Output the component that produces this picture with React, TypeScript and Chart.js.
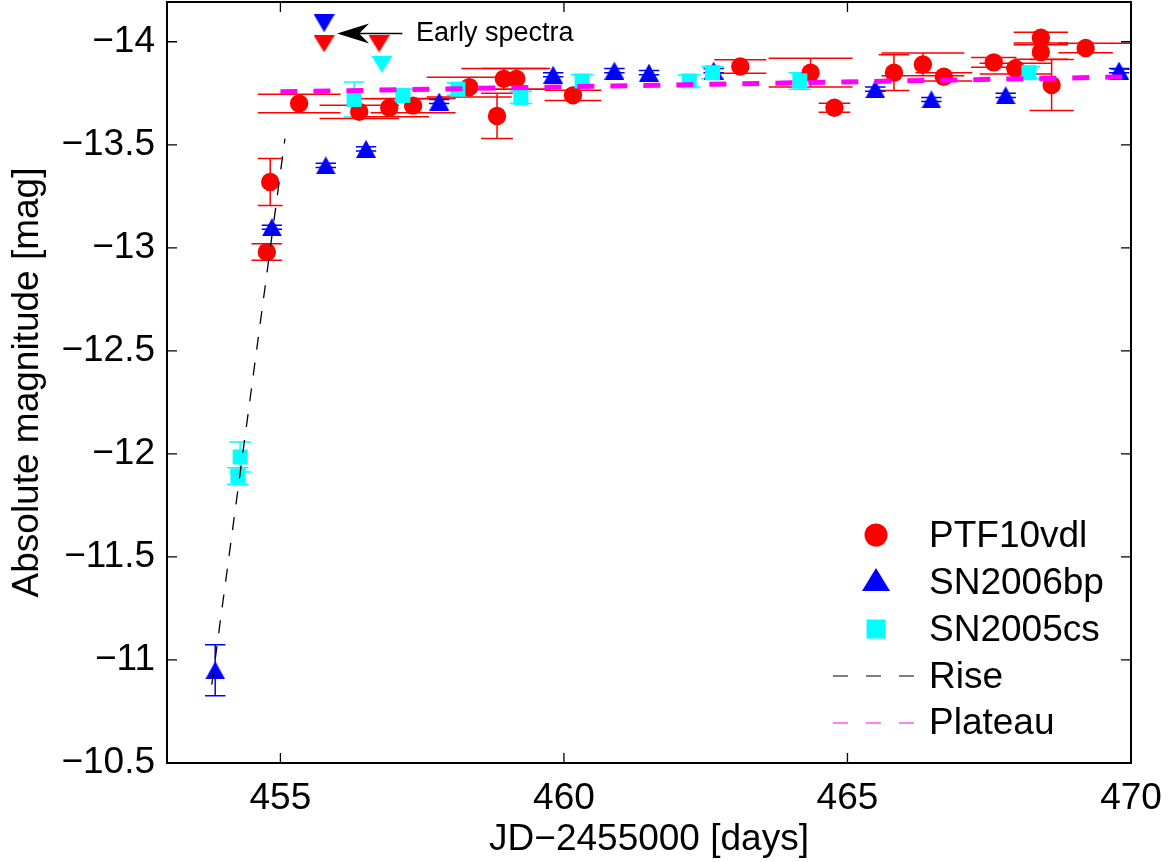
import React, { useEffect, useRef } from 'react';
import { Chart, registerables } from 'chart.js';
Chart.register(...registerables);

// ---- axis ticks ----
const xTicks = [455, 460, 465, 470];
const yTicks = [-14, -13.5, -13, -12.5, -12, -11.5, -11, -10.5];

// ---- PTF10vdl (red circles) ----
const ptfX = [454.76, 454.82, 455.33, 456.39, 456.92, 457.34, 458.33, 458.82, 458.94, 459.16, 460.16, 463.11, 464.35, 464.77, 465.82, 466.33, 466.7, 467.58, 467.96, 468.41, 468.41, 468.6, 469.2, 470.3];
const ptfY = [-12.98, -13.32, -13.7, -13.66, -13.68, -13.69, -13.78, -13.64, -13.82, -13.82, -13.74, -13.88, -13.85, -13.68, -13.85, -13.89, -13.83, -13.9, -13.87, -14.02, -13.95, -13.79, -13.97, -13.93];
const ptfErr = [0.04, 0.114, 0.045, 0.032, 0.044, 0.035, 0.048, 0.11, 0.05, 0.05, 0.025, 0.033, 0.07, 0.022, 0.087, 0.055, 0.02, 0.024, 0.026, 0.026, 0.035, 0.124, 0.023, 0.063];
const ptfCapHalf = [0.27, 0.22, 0.73, 0.7, 0.7, 0.75, 0.75, 0.28, 0.75, 0.6, 0.5, 0.46, 0.74, 0.28, 0.27, 0.73, 0.5, 0.4, 0.63, 0.48, 0.48, 0.39, 0.48, 0.65];

// ---- SN2006bp (blue triangles) ----
const bpX = [453.85, 454.85, 455.8, 456.51, 457.8, 459.81, 460.89, 461.5, 462.64, 465.49, 466.48, 467.79, 469.79];
const bpY = [-10.95, -13.1, -13.4, -13.48, -13.71, -13.84, -13.86, -13.85, -13.86, -13.77, -13.72, -13.74, -13.86];
const bpErr = [0.124, 0.01, 0.01, 0.01, 0.01, 0.01, 0.01, 0.01, 0.01, 0.01, 0.01, 0.01, 0.01];
const bpCapHalf = [0.18, 0.18, 0.18, 0.18, 0.18, 0.18, 0.18, 0.18, 0.18, 0.18, 0.18, 0.18, 0.18];

// ---- SN2005cs (cyan squares) ----
const csX = [454.25, 454.29, 456.3, 457.16, 458.13, 459.24, 460.32, 462.21, 462.62, 464.16, 468.2];
const csY = [-11.893, -11.985, -13.72, -13.74, -13.77, -13.73, -13.81, -13.81, -13.85, -13.81, -13.85];
const csErr = [0.04, 0.073, 0.085, 0.03, 0.03, 0.03, 0.03, 0.03, 0.03, 0.04, 0.03];
const csCapHalf = [0.19, 0.19, 0.18, 0.2, 0.2, 0.2, 0.2, 0.2, 0.2, 0.2, 0.2];

// ---- early spectra epochs (downward triangles) ----
const ptfLimX = [455.77, 456.74];
const ptfLimY = [-13.99, -13.99];
const bpLimX = [455.77];
const bpLimY = [-14.09];
const csLimX = [456.79];
const csLimY = [-13.89];

// ---- fitted lines ----
const riseX = [453.79, 455.08];
const riseY = [-10.88, -13.53];
const plateauX = [455.0, 470.5];
const plateauY = [-13.757, -13.832];

// ---- annotation ----
const arrowTip = { x: 456.0, y: -14.04 };
const arrowTail = { x: 457.15, y: -14.04 };
const noteText = 'Early spectra';
const noteAt = { x: 457.39, y: -14.04 };

const legendLabels = ['PTF10vdl', 'SN2006bp', 'SN2005cs', 'Rise', 'Plateau'];

const RED = '#ff0000';
const BLUE = '#0000ff';
const CYAN = '#00ffff';
const MAGENTA = '#ff00ff';
const FONT = "'Liberation Sans', Arial, Helvetica, sans-serif";

const pts = (xs: number[], ys: number[]) => xs.map((x, i) => ({ x, y: ys[i] }));

function triImage(color: string, w: number, h: number, down: boolean) {
  const c = document.createElement('canvas');
  c.width = w;
  c.height = h;
  const g = c.getContext('2d')!;
  g.fillStyle = color;
  g.beginPath();
  if (down) {
    g.moveTo(0, 0);
    g.lineTo(w, 0);
    g.lineTo(w / 2, h);
  } else {
    g.moveTo(w / 2, 0);
    g.lineTo(w, h);
    g.lineTo(0, h);
  }
  g.closePath();
  g.fill();
  return c;
}

export default function App() {
  const ref = useRef<HTMLCanvasElement>(null);

  useEffect(() => {
    const canvas = ref.current!;
    const upBlue = triImage(BLUE, 20, 18, false);
    const downBlue = triImage(BLUE, 21, 18, true);
    const downRed = triImage(RED, 21, 17, true);
    const downCyan = triImage(CYAN, 21, 17, true);

    const errSets = [
      { xs: ptfX, ys: ptfY, err: ptfErr, cap: ptfCapHalf, color: RED },
      { xs: bpX, ys: bpY, err: bpErr, cap: bpCapHalf, color: BLUE },
      { xs: csX, ys: csY, err: csErr, cap: csCapHalf, color: CYAN },
    ];

    const errorBars = {
      id: 'errorBars',
      beforeDatasetsDraw(chart: any) {
        const { ctx, chartArea: a, scales } = chart;
        const sx = scales.x;
        const sy = scales.y;
        ctx.save();
        ctx.beginPath();
        ctx.rect(a.left, a.top, a.right - a.left, a.bottom - a.top);
        ctx.clip();
        ctx.lineWidth = 1.5;
        for (const s of errSets) {
          ctx.strokeStyle = s.color;
          for (let i = 0; i < s.xs.length; i++) {
            const px = sx.getPixelForValue(s.xs[i]);
            const y1 = sy.getPixelForValue(s.ys[i] - s.err[i]);
            const y2 = sy.getPixelForValue(s.ys[i] + s.err[i]);
            const l = sx.getPixelForValue(s.xs[i] - s.cap[i]);
            const r = sx.getPixelForValue(s.xs[i] + s.cap[i]);
            ctx.beginPath();
            ctx.moveTo(px, y1);
            ctx.lineTo(px, y2);
            ctx.moveTo(l, y1);
            ctx.lineTo(r, y1);
            ctx.moveTo(l, y2);
            ctx.lineTo(r, y2);
            ctx.stroke();
          }
        }
        ctx.restore();
      },
    };

    const frameAndExtras = {
      id: 'frameAndExtras',
      afterDraw(chart: any) {
        const { ctx, chartArea: a, scales } = chart;
        const sx = scales.x;
        const sy = scales.y;
        ctx.save();
        // box
        ctx.strokeStyle = '#000';
        ctx.lineWidth = 2;
        ctx.strokeRect(a.left, a.top, a.right - a.left, a.bottom - a.top);
        // inward ticks
        ctx.lineWidth = 1.3;
        const tl = 10;
        ctx.beginPath();
        for (const v of xTicks) {
          const px = sx.getPixelForValue(v);
          ctx.moveTo(px, a.bottom);
          ctx.lineTo(px, a.bottom - tl);
          ctx.moveTo(px, a.top);
          ctx.lineTo(px, a.top + tl);
        }
        for (const v of yTicks) {
          const py = sy.getPixelForValue(v);
          ctx.moveTo(a.left, py);
          ctx.lineTo(a.left + tl, py);
          ctx.moveTo(a.right, py);
          ctx.lineTo(a.right - tl, py);
        }
        ctx.stroke();

        // annotation arrow
        const tx = sx.getPixelForValue(arrowTip.x);
        const ty = sy.getPixelForValue(arrowTip.y);
        const ex = sx.getPixelForValue(arrowTail.x);
        ctx.strokeStyle = '#000';
        ctx.fillStyle = '#000';
        ctx.lineWidth = 1.5;
        ctx.beginPath();
        ctx.moveTo(tx + 20, ty);
        ctx.lineTo(ex, ty);
        ctx.stroke();
        ctx.beginPath();
        ctx.moveTo(tx, ty);
        ctx.lineTo(tx + 32, ty - 10);
        ctx.lineTo(tx + 22, ty);
        ctx.lineTo(tx + 32, ty + 10);
        ctx.closePath();
        ctx.fill();
        ctx.font = `27px ${FONT}`;
        ctx.textAlign = 'left';
        ctx.textBaseline = 'middle';
        ctx.fillText(noteText, sx.getPixelForValue(noteAt.x), sy.getPixelForValue(noteAt.y));

        // legend
        const lx = a.right - 255; // marker centre
        const textX = a.right - 202;
        const rows = [a.bottom - 226, a.bottom - 179, a.bottom - 132, a.bottom - 85, a.bottom - 39];
        ctx.font = `37px ${FONT}`;
        ctx.fillStyle = '#000';
        legendLabels.forEach((t, i) => ctx.fillText(t, textX, rows[i]));
        // markers
        ctx.fillStyle = RED;
        ctx.beginPath();
        ctx.arc(lx, rows[0] - 2, 11.5, 0, Math.PI * 2);
        ctx.fill();
        ctx.fillStyle = BLUE;
        ctx.beginPath();
        ctx.moveTo(lx, rows[1] - 16);
        ctx.lineTo(lx + 14, rows[1] + 7);
        ctx.lineTo(lx - 14, rows[1] + 7);
        ctx.closePath();
        ctx.fill();
        ctx.fillStyle = CYAN;
        ctx.fillRect(lx - 9.5, rows[2] - 11.5, 19, 19);
        ctx.lineWidth = 1.2;
        ctx.setLineDash([15, 18]);
        ctx.strokeStyle = '#000';
        ctx.beginPath();
        ctx.moveTo(a.right - 298, rows[3] - 2);
        ctx.lineTo(a.right - 214, rows[3] - 2);
        ctx.stroke();
        ctx.strokeStyle = MAGENTA;
        ctx.beginPath();
        ctx.moveTo(a.right - 298, rows[4] - 1);
        ctx.lineTo(a.right - 214, rows[4] - 1);
        ctx.stroke();
        ctx.restore();
      },
    };

    const tickFont = { family: FONT, size: 37 };

    const chart = new Chart(canvas, {
      type: 'scatter',
      data: {
        datasets: [
          {
            label: 'Plateau',
            data: pts(plateauX, plateauY),
            showLine: true,
            borderColor: MAGENTA,
            borderWidth: 5,
            borderDash: [17, 16],
            pointRadius: 0,
            order: 0,
          },
          {
            label: 'Rise',
            data: pts(riseX, riseY),
            showLine: true,
            borderColor: '#000',
            borderWidth: 1.3,
            borderDash: [13, 13],
            pointRadius: 0,
            order: 1,
          },
          {
            label: 'SN2005cs early',
            data: pts(csLimX, csLimY),
            pointStyle: downCyan,
            pointRadius: 10,
            order: 2,
          },
          {
            label: 'SN2005cs',
            data: pts(csX, csY),
            pointStyle: 'rect',
            pointRadius: 10.6,
            backgroundColor: CYAN,
            borderWidth: 0,
            order: 3,
          },
          {
            label: 'SN2006bp early',
            data: pts(bpLimX, bpLimY),
            pointStyle: downBlue,
            pointRadius: 10,
            order: 4,
          },
          {
            label: 'SN2006bp',
            data: pts(bpX, bpY),
            pointStyle: upBlue,
            pointRadius: 10,
            order: 5,
          },
          {
            label: 'PTF10vdl early',
            data: pts(ptfLimX, ptfLimY),
            pointStyle: downRed,
            pointRadius: 10,
            order: 6,
          },
          {
            label: 'PTF10vdl',
            data: pts(ptfX, ptfY),
            pointStyle: 'circle',
            pointRadius: 9.2,
            backgroundColor: RED,
            borderWidth: 0,
            order: 7,
          },
        ],
      },
      options: {
        responsive: false,
        animation: false,
        devicePixelRatio: 1,
        events: [],
        layout: { autoPadding: false, padding: { left: 0, top: 2, right: 40, bottom: 0 } },
        plugins: { legend: { display: false }, tooltip: { enabled: false } },
        scales: {
          x: {
            type: 'linear',
            min: 453,
            max: 470,
            afterBuildTicks: (s: any) => {
              s.ticks = xTicks.map((v) => ({ value: v }));
            },
            afterFit: (s: any) => {
              s.height = 99;
              s.paddingLeft = 0;
              s.paddingRight = 0;
            },
            grid: { display: false, drawTicks: false },
            border: { display: false },
            ticks: {
              font: tickFont,
              color: '#000',
              padding: 14,
              maxRotation: 0,
              autoSkip: false,
              callback: (v: any) => String(v),
            },
            title: {
              display: true,
              text: 'JD\u22122455000 [days]',
              font: tickFont,
              color: '#000',
              padding: 0,
            },
          },
          y: {
            type: 'linear',
            reverse: true,
            min: -14.193,
            max: -10.5,
            afterBuildTicks: (s: any) => {
              s.ticks = yTicks.map((v) => ({ value: v }));
            },
            afterFit: (s: any) => {
              s.width = 167;
              s.paddingTop = 0;
              s.paddingBottom = 0;
            },
            grid: { display: false, drawTicks: false },
            border: { display: false },
            ticks: {
              font: tickFont,
              color: '#000',
              padding: 12,
              autoSkip: false,
              callback: (v: any) => (v < 0 ? '\u2212' : '') + String(Math.abs(v)),
            },
            title: {
              display: true,
              text: 'Absolute magnitude [mag]',
              font: tickFont,
              color: '#000',
              padding: { top: 6, bottom: 0 },
            },
          },
        },
      },
      plugins: [errorBars, frameAndExtras],
    } as any);

    return () => chart.destroy();
  }, []);

  return (
    <div style={{ position: 'fixed', left: 0, top: 0, width: 1171, height: 862, background: '#fff' }}>
      <canvas ref={ref} width={1171} height={862} style={{ display: 'block', width: 1171, height: 862 }} />
    </div>
  );
}
